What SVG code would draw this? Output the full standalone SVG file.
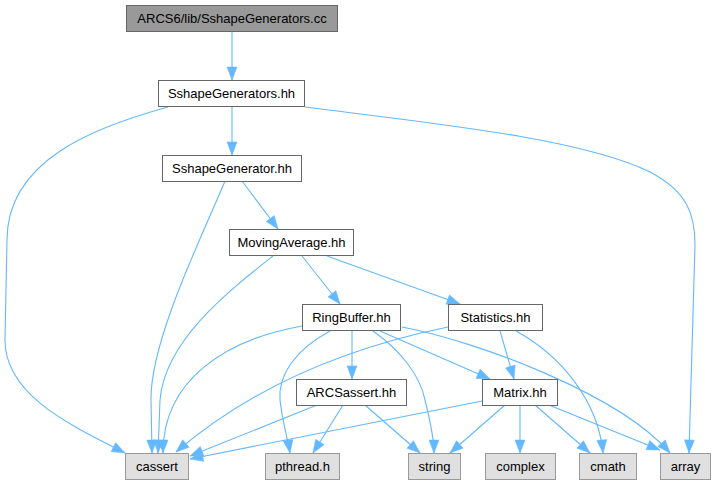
<svg xmlns="http://www.w3.org/2000/svg" width="716" height="485" viewBox="0 0 716 485">
<style>
.n rect{fill:#fff;stroke:#666;stroke-width:1}
.root rect{fill:#999;stroke:#666;stroke-width:1}
.leaf rect{fill:#e0e0e0;stroke:#999;stroke-width:1}
text{font-family:"Liberation Sans",Arial,Helvetica,sans-serif;font-size:13px;fill:#000;text-anchor:middle}
#edges path{fill:none;stroke:#63b8ff;stroke-width:1.1;marker-end:url(#ah)}
</style>
<defs>
<marker id="ah" markerWidth="13" markerHeight="10" refX="13" refY="5" orient="auto" markerUnits="userSpaceOnUse" style="overflow:visible">
<path d="M0,0 L13,5 L0,10 z" fill="#63b8ff" stroke="#63b8ff" stroke-width="0.5"/>
</marker>
</defs>
<rect width="716" height="485" fill="#fff"/>
<g id="edges">
<path d="M232,32 L232,80"/>
<path d="M232,107 L232,155"/>
<path d="M168,107 C95,127 7,160 7,240 L5,340 C5,395 70,425 125,453"/>
<path d="M305,107 C430,123 580,138 650,172 C688,192 695,215 695,245 L689,453"/>
<path d="M242,181 L278,229"/>
<path d="M225,181 C205,230 150,340 151,400 L152,453"/>
<path d="M273,256 C230,290 165,340 160,400 L158,453"/>
<path d="M302,256 L340,304"/>
<path d="M327,256 L460,304"/>
<path d="M302,326 C225,340 163,380 163,453"/>
<path d="M330,331 C295,350 278,375 280,400 C282,420 288,440 290,453"/>
<path d="M352,331 L352,379"/>
<path d="M373,331 C400,350 420,375 425,400 C430,420 434,440 434,453"/>
<path d="M380,331 L490,379"/>
<path d="M402,327 C480,342 620,395 670,453"/>
<path d="M448,327 C360,345 260,380 176,452"/>
<path d="M500,331 L514,379"/>
<path d="M516,331 C560,355 598,400 603,453"/>
<path d="M317,405 L190,456"/>
<path d="M343,405 L313,453"/>
<path d="M365,405 L420,453"/>
<path d="M482,401 L190,459"/>
<path d="M505,405 L450,453"/>
<path d="M520,405 L520,453"/>
<path d="M535,405 L590,453"/>
<path d="M549,405 L660,450"/>
</g>
<g id="node-root" class="root"><rect x="126.5" y="5.5" width="211" height="26"/><text x="232" y="23">ARCS6/lib/SshapeGenerators.cc</text></g>
<g id="node-sgs" class="n"><rect x="158.5" y="80.5" width="146" height="26"/><text x="231.5" y="98">SshapeGenerators.hh</text></g>
<g id="node-sg" class="n"><rect x="162.5" y="155.5" width="139" height="26"/><text x="232" y="173">SshapeGenerator.hh</text></g>
<g id="node-ma" class="n"><rect x="229.5" y="229.5" width="124" height="26"/><text x="291.5" y="247">MovingAverage.hh</text></g>
<g id="node-rb" class="n"><rect x="302.5" y="304.5" width="98" height="26"/><text x="351.5" y="322">RingBuffer.hh</text></g>
<g id="node-stats" class="n"><rect x="448.5" y="304.5" width="94" height="26"/><text x="495.5" y="322">Statistics.hh</text></g>
<g id="node-arcsassert" class="n"><rect x="296.5" y="379.5" width="110" height="26"/><text x="351.5" y="397">ARCSassert.hh</text></g>
<g id="node-matrix" class="n"><rect x="482.5" y="379.5" width="75" height="26"/><text x="520" y="397">Matrix.hh</text></g>
<g id="node-cassert" class="leaf"><rect x="125.5" y="453.5" width="63" height="26"/><text x="157" y="471">cassert</text></g>
<g id="node-pthread" class="leaf"><rect x="265.5" y="453.5" width="74" height="26"/><text x="302.5" y="471">pthread.h</text></g>
<g id="node-string" class="leaf"><rect x="408.5" y="453.5" width="52" height="26"/><text x="434.5" y="471">string</text></g>
<g id="node-complex" class="leaf"><rect x="485.5" y="453.5" width="70" height="26"/><text x="520.5" y="471">complex</text></g>
<g id="node-cmath" class="leaf"><rect x="579.5" y="453.5" width="57" height="26"/><text x="608" y="471">cmath</text></g>
<g id="node-array" class="leaf"><rect x="660.5" y="453.5" width="50" height="26"/><text x="685.5" y="471">array</text></g>
</svg>
